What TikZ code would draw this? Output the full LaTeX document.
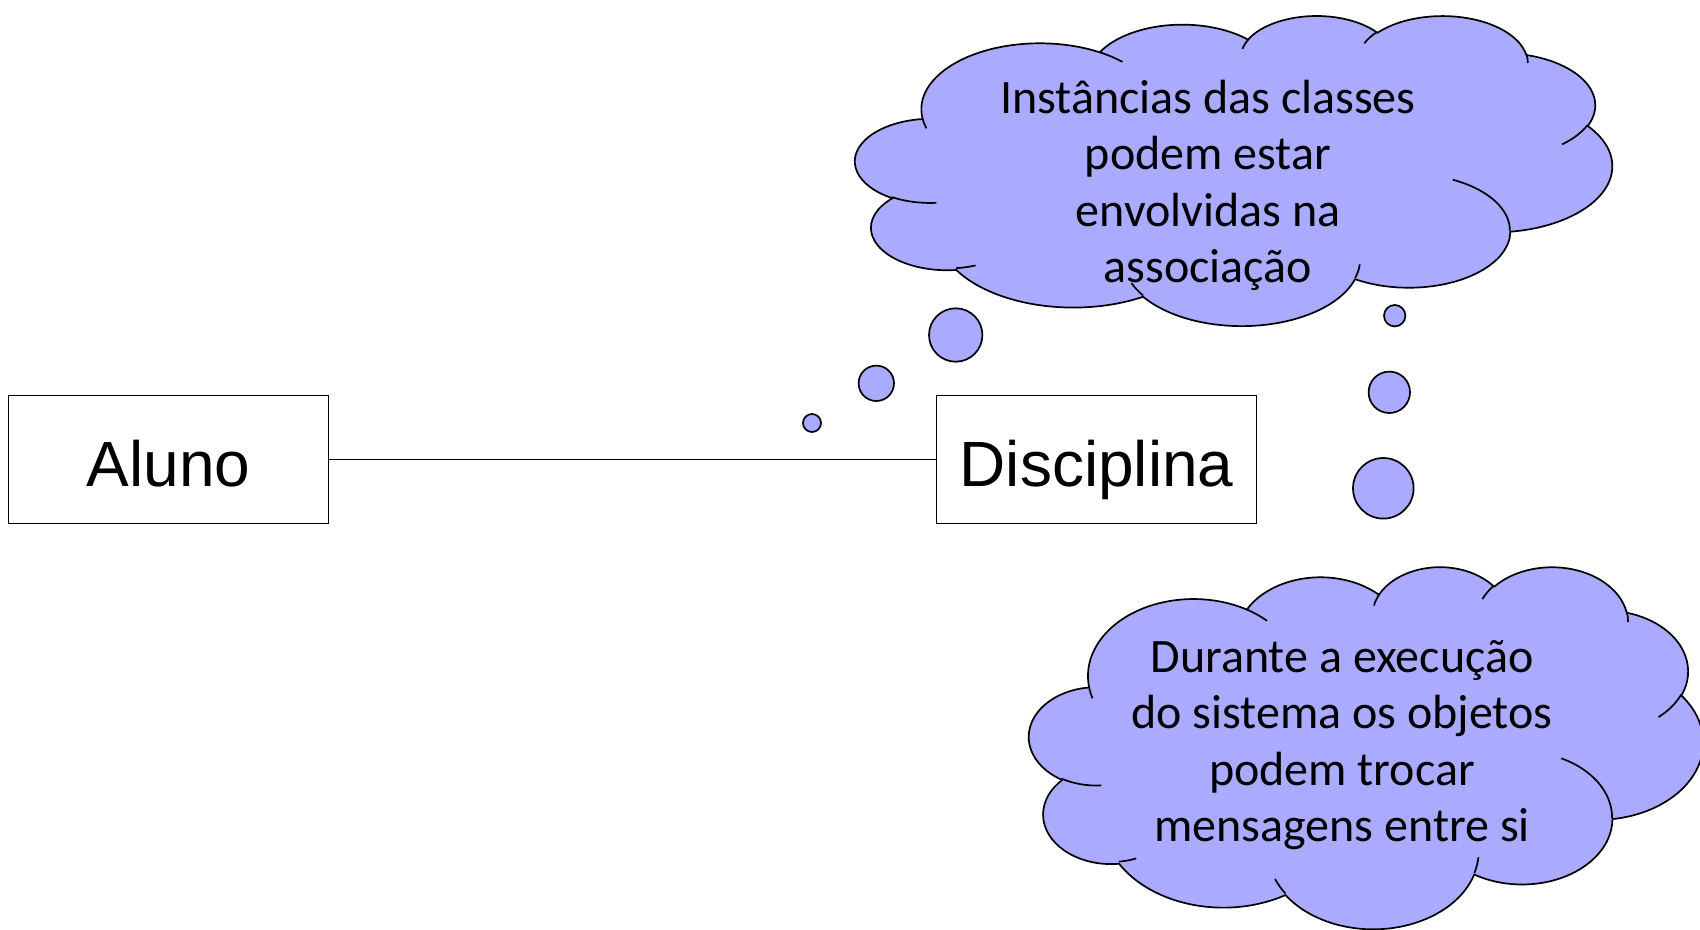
\documentclass[tikz,border=0pt]{standalone}
\usepackage{fontspec}
\setmainfont{Liberation Sans}
\newfontfamily\calibri{Carlito}
\definecolor{cloudfill}{RGB}{170,170,255}
% arc with OOXML-style (visual) angles -> parametric angles for TikZ
\newcommand\ooprep[5]{% #1 id, #2 wR, #3 hR, #4 start angle, #5 sweep
  \pgfmathsetmacro\ooa{#4}%
  \pgfmathsetmacro\oob{#4+#5}%
  \pgfmathsetmacro\ooT{atan2((#2)*sin(\ooa),(#3)*cos(\ooa))}%
  \pgfmathsetmacro\ooU{atan2((#2)*sin(\oob),(#3)*cos(\oob))}%
  \pgfmathsetmacro\ooD{\ooU-\ooT}%
  \pgfmathsetmacro\ooD{\ooD-360*round((\ooD-(#5))/360)}%
  \expandafter\xdef\csname ooS#1\endcsname{\ooT}%
  \expandafter\xdef\csname ooD#1\endcsname{\ooD}%
}
\tikzset{
  umlbox/.style={draw=black, line width=1.5pt, fill=white, rectangle,
    minimum width=319.8pt, minimum height=128pt, inner sep=0pt,
    text height=53pt, text depth=0pt, font=\fontsize{64}{77}\selectfont},
  assoc/.style={draw=black, line width=1.5pt},
  cloudshape/.style={fill=cloudfill, draw=black, line width=1.7pt, line join=round},
  cloudinner/.style={draw=black, line width=1.7pt},
  bubble/.style={circle, fill=cloudfill, draw=black, line width=1.7pt, inner sep=0pt},
  ctext/.style={font=\calibri\fontsize{48}{57}\selectfont, inner sep=0pt, anchor=base},
}
\begin{document}
\begin{tikzpicture}[x=1pt,y=-1pt]
\useasboundingbox (0,0) rectangle (1700,929);
% outline arcs
\ooprep{a}{67.53}{91.90}{-190.4875}{123.7805}
\ooprep{b}{53.33}{72.67}{-144.1024}{89.9452}
\ooprep{c}{43.65}{59.45}{-145.8079}{99.7230}
\ooprep{d}{48.57}{65.95}{-130.9861}{117.2417}
\ooprep{e}{53.33}{72.73}{-78.7089}{109.0269}
\ooprep{f}{67.75}{92.20}{-46.2673}{130.2690}
\ooprep{g}{57.85}{78.67}{0.6250}{114.0333}
\ooprep{h}{67.52}{92.15}{22.4516}{115.1726}
\ooprep{i}{77.20}{105.43}{66.2426}{75.2720}
\ooprep{j}{43.60}{59.18}{-274.9421}{147.7206}
\ooprep{k}{43.45}{59.45}{-246.8285}{152.2000}
% inner arcs
\ooprep{A}{43.45}{59.45}{86.7420}{26.4295}
\ooprep{B}{43.60}{59.18}{73.6105}{11.4475}
\ooprep{C}{67.52}{92.15}{137.6242}{14.0811}
\ooprep{D}{67.52}{92.15}{6.4533}{15.9984}
\ooprep{E}{57.85}{78.67}{-70.2924}{70.9174}
\ooprep{F}{53.33}{72.73}{30.3180}{27.7515}
\ooprep{G}{48.57}{65.95}{-13.7443}{14.8589}
\ooprep{H}{48.57}{65.95}{-149.1815}{18.1954}
\ooprep{I}{43.65}{59.45}{-163.4943}{17.6864}
\ooprep{J}{67.53}{91.90}{-66.7070}{12.3194}
\ooprep{K}{67.53}{91.90}{157.6544}{11.8582}

\foreach \L/\T/\W/\H in {854/15/1.75463/0.71759, 1028/566/1.5625/0.83796}{
\begin{scope}[shift={(\L,\T)}, x=\W pt, y=-\H pt]
  \path[cloudshape] (39.00,143.70)
    arc[start angle=\ooSa, delta angle=\ooDa, x radius=67.53, y radius=91.90]
    arc[start angle=\ooSb, delta angle=\ooDb, x radius=53.33, y radius=72.67]
    arc[start angle=\ooSc, delta angle=\ooDc, x radius=43.65, y radius=59.45]
    arc[start angle=\ooSd, delta angle=\ooDd, x radius=48.57, y radius=65.95]
    arc[start angle=\ooSe, delta angle=\ooDe, x radius=53.33, y radius=72.73]
    arc[start angle=\ooSf, delta angle=\ooDf, x radius=67.75, y radius=92.20]
    arc[start angle=\ooSg, delta angle=\ooDg, x radius=57.85, y radius=78.67]
    arc[start angle=\ooSh, delta angle=\ooDh, x radius=67.52, y radius=92.15]
    arc[start angle=\ooSi, delta angle=\ooDi, x radius=77.20, y radius=105.43]
    arc[start angle=\ooSj, delta angle=\ooDj, x radius=43.60, y radius=59.18]
    arc[start angle=\ooSk, delta angle=\ooDk, x radius=43.45, y radius=59.45]
    -- cycle;
  \path[cloudinner]
    (46.93,261.77) arc[start angle=\ooSA, delta angle=\ooDA, x radius=43.45, y radius=59.45]
    (69.28,348.99) arc[start angle=\ooSB, delta angle=\ooDB, x radius=43.60, y radius=59.18]
    (164.78,390.90) arc[start angle=\ooSC, delta angle=\ooDC, x radius=67.52, y radius=92.15]
    (288.27,347.51) arc[start angle=\ooSD, delta angle=\ooDD, x radius=67.52, y radius=92.15]
    (341.29,229.54) arc[start angle=\ooSE, delta angle=\ooDE, x radius=57.85, y radius=78.67]
    (417.98,153.54) arc[start angle=\ooSF, delta angle=\ooDF, x radius=53.33, y radius=72.73]
    (383.24,54.26) arc[start angle=\ooSG, delta angle=\ooDG, x radius=48.57, y radius=65.95]
    (290.78,39.52) arc[start angle=\ooSH, delta angle=\ooDH, x radius=48.57, y radius=65.95]
    (221.41,47.20) arc[start angle=\ooSI, delta angle=\ooDI, x radius=43.65, y radius=59.45]
    (140.00,51.92) arc[start angle=\ooSJ, delta angle=\ooDJ, x radius=67.53, y radius=91.90]
    (41.27,157.89) arc[start angle=\ooSK, delta angle=\ooDK, x radius=67.53, y radius=91.90];
\end{scope}
}

% thought bubbles
\node[bubble, minimum size=53.4pt] (ta) at (955.7,335) {};
\node[bubble, minimum size=35.4pt] (tb) at (876.3,383.3) {};
\node[bubble, minimum size=18pt] (tc) at (812,423) {};
\node[bubble, minimum size=21.4pt] (ba) at (1394.7,315.7) {};
\node[bubble, minimum size=41.4pt] (bb) at (1389.3,392.3) {};
\node[bubble, minimum size=60.6pt] (bc) at (1383.3,488.3) {};

% cloud texts
\node[ctext] (t1) at (1208,113) {Instâncias das classes};
\node[ctext] (t2) at (1208,169.5) {podem estar};
\node[ctext] (t3) at (1208,226) {envolvidas na};
\node[ctext] (t4) at (1208,282.5) {associação};
\node[ctext] (u1) at (1342,672) {Durante a execução};
\node[ctext] (u2) at (1342,728.5) {do sistema os objetos};
\node[ctext] (u3) at (1342,785) {podem trocar};
\node[ctext] (u4) at (1342,841.5) {mensagens entre si};

% classes and association
\node[umlbox] (aluno) at (168.6,459.6) {Aluno};
\node[umlbox] (disciplina) at (1096.6,459.6) {Disciplina};
\draw[assoc] (aluno) -- (disciplina);
\end{tikzpicture}
\end{document}
